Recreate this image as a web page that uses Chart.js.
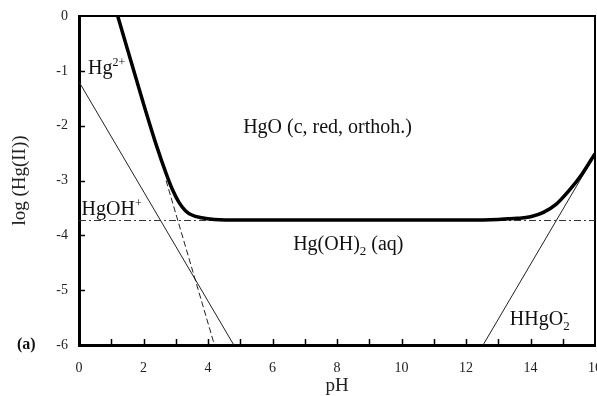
<!DOCTYPE html>
<html>
<head>
<meta charset="utf-8">
<script src="https://cdn.jsdelivr.net/npm/chart.js@4"></script>
<style>
  html, body { margin: 0; padding: 0; background: #fff; overflow: hidden; }
</style>
</head>
<body>
<canvas id="chart" width="597" height="396"></canvas>
<script>
// Values (pH vs log total Hg(II))
const totalPH  = [1.2, 1.5, 2.0, 2.4, 2.7, 2.9, 3.1, 3.3, 3.5, 3.8, 4.2, 5.0, 12.0, 13.0, 13.6, 14.0, 14.4, 14.8, 15.2, 15.6, 16.0];
const totalLog = [0, -0.6, -1.6, -2.36, -2.87, -3.17, -3.40, -3.55, -3.63, -3.68, -3.71, -3.72, -3.72, -3.71, -3.69, -3.66, -3.58, -3.43, -3.18, -2.88, -2.51];

const hgohPH  = [0, 4.8];     // HgOH+
const hgohLog = [-1.2, -6];
const hg2PH   = [2.7, 4.2];   // Hg2+ (dashed)
const hg2Log  = [-3.0, -6];
const aqPH    = [0, 16];      // Hg(OH)2 (aq) (dashed)
const aqLog   = [-3.73, -3.73];
const hhgPH   = [12.53, 16];  // HHgO2-
const hhgLog  = [-6, -2.53];

const xTickLabels = [0, 2, 4, 6, 8, 10, 12, 14, 16];
const yTickLabels = [0, -1, -2, -3, -4, -5, -6];

const SERIF = '"Liberation Serif", "DejaVu Serif", serif';

function pts(xs, ys) {
    return xs.map((x, i) => ({ x: x, y: ys[i] }));
}

// inward tick marks on the left and bottom axes
const innerTicks = {
    id: 'innerTicks',
    afterDatasetsDraw(chart) {
        const { ctx, chartArea, scales } = chart;
        ctx.save();
        ctx.strokeStyle = '#000';
        ctx.lineWidth = 1.5;
        ctx.beginPath();
        for (let v = 1; v < 16; v++) {
            const px = Math.round(scales.x.getPixelForValue(v)) + 0.5;
            ctx.moveTo(px, chartArea.bottom);
            ctx.lineTo(px, chartArea.bottom - 6);
        }
        for (let v = -5; v < 0; v++) {
            const py = Math.round(scales.y.getPixelForValue(v)) + 0.5;
            ctx.moveTo(chartArea.left, py);
            ctx.lineTo(chartArea.left + 6, py);
        }
        ctx.stroke();
        ctx.restore();
    }
};

// species labels: pieces of [text, size, shift, keepX]
function drawPieces(ctx, x, y, pieces) {
    pieces.forEach(p => {
        ctx.font = p[1] + 'px ' + SERIF;
        ctx.fillText(p[0], x, y + p[2]);
        if (!p[3]) x += ctx.measureText(p[0]).width;
    });
}

const speciesLabels = {
    id: 'speciesLabels',
    afterDraw(chart) {
        const { ctx, scales } = chart;
        const X = v => scales.x.getPixelForValue(v);
        const Y = v => scales.y.getPixelForValue(v);
        ctx.save();
        ctx.fillStyle = '#111';
        ctx.textBaseline = 'alphabetic';
        ctx.textAlign = 'left';
        drawPieces(ctx, X(0.28), Y(-1.05), [['Hg', 20, 0], ['2+', 12, -8]]);
        drawPieces(ctx, X(0.08), Y(-3.63), [['HgOH', 20, 0], ['+', 12, -8]]);
        drawPieces(ctx, X(5.09), Y(-2.14), [['HgO (c, red, orthoh.)', 20, 0]]);
        drawPieces(ctx, X(6.64), Y(-4.27), [['Hg(OH)', 20, 0], ['2', 13, 5], [' (aq)', 20, 0]]);
        drawPieces(ctx, X(13.36), Y(-5.64), [['HHgO', 20, 0], ['2', 13, 5, true], ['-', 14, -8]]);
        ctx.font = 'bold 16px ' + SERIF;
        ctx.fillText('(a)', 17, 349);
        ctx.restore();
    }
};

new Chart(document.getElementById('chart'), {
    type: 'scatter',
    data: {
        datasets: [
            { data: pts(totalPH, totalLog), borderColor: '#000', borderWidth: 3.5, cubicInterpolationMode: 'monotone', order: 0 },
            { data: pts(hgohPH, hgohLog), borderColor: '#222', borderWidth: 1, order: 1 },
            { data: pts(hg2PH, hg2Log), borderColor: '#222', borderWidth: 1, borderDash: [6, 3], order: 2 },
            { data: pts(aqPH, aqLog), borderColor: '#333', borderWidth: 1, borderDash: [7, 3, 2, 3], order: 3 },
            { data: pts(hhgPH, hhgLog), borderColor: '#222', borderWidth: 1, order: 4 }
        ].map(d => Object.assign({ showLine: true, pointRadius: 0, fill: false }, d))
    },
    options: {
        responsive: false,
        animation: false,
        devicePixelRatio: 1,
        layout: { padding: { top: 16, right: 2, left: 0, bottom: 0 } },
        plugins: { legend: { display: false }, tooltip: { enabled: false } },
        scales: {
            x: {
                type: 'linear', position: 'bottom', min: 0, max: 16,
                afterFit: s => { s.height = 51; s.paddingLeft = 0; s.paddingRight = 0; },
                afterBuildTicks: s => { s.ticks = xTickLabels.map(v => ({ value: v })); },
                grid: { display: false, drawTicks: false },
                border: { display: true, color: '#000', width: 3 },
                ticks: { color: '#222', padding: 15, maxRotation: 0, autoSkip: false, font: { family: SERIF, size: 14 } },
                title: { display: true, text: 'pH', color: '#222', padding: 0, font: { family: SERIF, size: 19, lineHeight: 1 } }
            },
            y: {
                type: 'linear', position: 'left', min: -6, max: 0,
                afterFit: s => { s.width = 79; s.paddingTop = 0; s.paddingBottom = 0; },
                afterBuildTicks: s => { s.ticks = yTickLabels.map(v => ({ value: v })); },
                grid: { display: false, drawTicks: false },
                border: { display: true, color: '#000', width: 3 },
                ticks: { color: '#222', padding: 11, font: { family: SERIF, size: 14 } },
                title: { display: true, text: 'log (Hg(II))', color: '#222', padding: { top: 11, bottom: 0 }, font: { family: SERIF, size: 19, lineHeight: 1 } }
            },
            xTop: {
                type: 'linear', position: 'top', min: 0, max: 16,
                afterFit: s => { s.height = 0; s.paddingLeft = 0; s.paddingRight = 0; },
                grid: { display: false, drawTicks: false },
                border: { display: true, color: '#000', width: 2 },
                ticks: { display: false }
            },
            yRight: {
                type: 'linear', position: 'right', min: -6, max: 0,
                afterFit: s => { s.width = 0; s.paddingTop = 0; s.paddingBottom = 0; },
                grid: { display: false, drawTicks: false },
                border: { display: true, color: '#000', width: 2 },
                ticks: { display: false }
            }
        }
    },
    plugins: [innerTicks, speciesLabels]
});
</script>
</body>
</html>
